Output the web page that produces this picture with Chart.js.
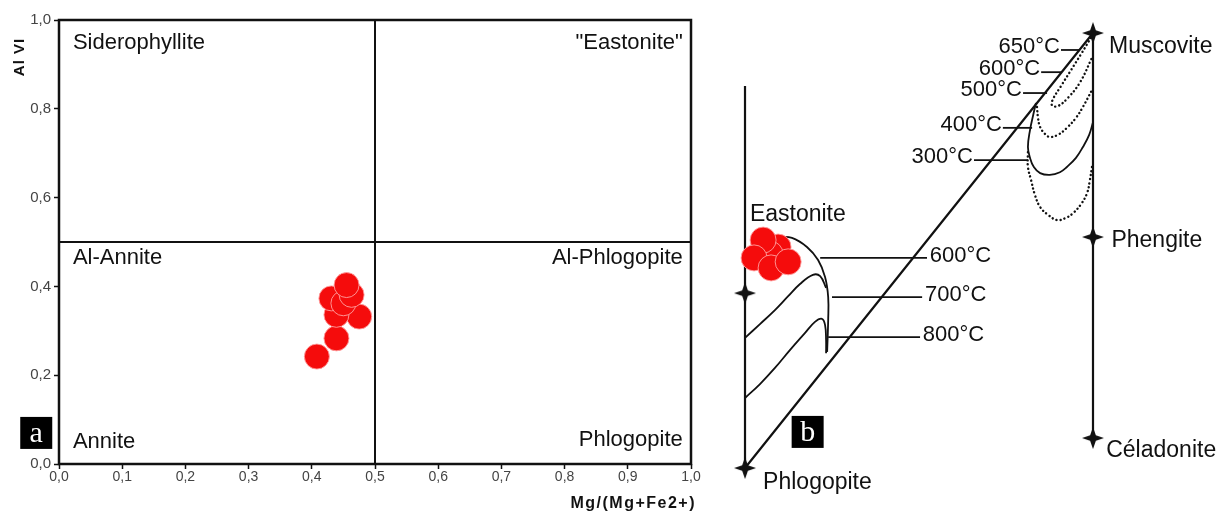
<!DOCTYPE html>
<html>
<head>
<meta charset="utf-8">
<title>Biotite classification</title>
<script src="https://cdn.jsdelivr.net/npm/chart.js@4.4.1/dist/chart.umd.min.js"></script>
<style>
  body { margin: 0; background: #fff; }
  #wrap { position: relative; width: 1222px; height: 513px; overflow: hidden; }
  #chartA { position: absolute; left: 0; top: 0; }
  #chartB { position: absolute; left: 710px; top: 0; }
</style>
</head>
<body>
<div id="wrap">
  <canvas id="chartA" width="710" height="513"></canvas>
  <canvas id="chartB" width="512" height="513"></canvas>
</div>
<script>
// ---- panel a : Al VI vs Mg/(Mg+Fe2+) ----
const mgNumber = [0.408, 0.439, 0.475, 0.439, 0.431, 0.450, 0.463, 0.455];
const alVI     = [0.242, 0.283, 0.332, 0.336, 0.373, 0.362, 0.381, 0.403];
const xTicks = [0, 0.1, 0.2, 0.3, 0.4, 0.5, 0.6, 0.7, 0.8, 0.9, 1.0];
const yTicks = [0, 0.2, 0.4, 0.6, 0.8, 1.0];
const splitValue = 0.5;
const fieldNames = ['Siderophyllite', '"Eastonite"', 'Al-Annite', 'Al-Phlogopite', 'Annite', 'Phlogopite'];

// ---- panel b : schematic (phlogopite = 0, muscovite = 100) ----
const eastoniteAxis = [[0, 87.8], [0, 0]];
const phlMusJoin    = [[0, 0], [100, 100]];
const celadoniteAxis = [[100, 100], [100, 6.9]];
const endMembers = [[0, 0], [0, 40.2], [100, 100], [100, 53.1], [100, 6.9]];
const endMemberNames = ['Phlogopite', 'Eastonite', 'Muscovite', 'Phengite', 'Céladonite'];
const samplesB = [[9.5, 50.8], [7.2, 49.2], [5.2, 52.4], [2.6, 48.3], [7.5, 46.0], [12.4, 47.4]];

const bio600 = [[9.2, 53.1], [13.5, 52.9], [17.8, 50.8], [21.0, 47.8], [23.0, 43.9], [23.9, 39.3], [23.9, 34.0], [23.6, 26.7]];
const bio700 = [[0, 29.9], [4.3, 33.1], [8.6, 36.3], [12.4, 39.5], [15.8, 42.3], [19.5, 44.4], [21.6, 44.1], [23.3, 41.4]];
const bio800 = [[0, 16.1], [4.3, 19.3], [8.6, 23.0], [12.9, 27.1], [17.2, 31.0], [20.1, 33.6], [22.1, 34.3], [23.0, 32.9], [23.3, 29.4], [23.3, 26.4]];

const mus600 = [[99.4, 98.9], [96.6, 95.2], [93.7, 91.5], [90.8, 87.8], [88.5, 84.8], [88.2, 83.4], [89.9, 83.2], [92.8, 85.1], [96.3, 88.7], [99.7, 94.3]];
const mus500 = [[83.9, 83.0], [84.2, 80.5], [84.8, 78.4], [86.2, 76.8], [87.6, 76.1], [89.9, 76.6], [92.5, 78.2], [95.1, 80.5], [97.1, 83.0], [99.7, 86.9]];
const mus400 = [[83.6, 83.9], [82.8, 81.1], [81.9, 77.7], [81.3, 73.8], [81.9, 71.3], [83.0, 69.2], [84.8, 67.8], [87.6, 67.4], [90.5, 68.0], [92.5, 69.2], [95.1, 71.3], [97.1, 73.8], [98.9, 76.6], [100, 79.5]];
const mus300 = [[81.3, 72.6], [81.3, 69.2], [82.2, 66.2], [83.3, 62.8], [84.8, 60.0], [87.1, 58.2], [89.7, 57.0], [92.2, 57.5], [94.3, 58.6], [96.6, 60.7], [98.3, 63.2], [99.1, 66.2], [99.7, 69.2]];

const musTemps = ['650°C', '600°C', '500°C', '400°C', '300°C'];
const musLeaders = [[90.8, 96.0, 96.1], [85.1, 91.1, 91.0], [79.9, 86.8, 86.2], [74.1, 82.5, 78.2], [65.8, 81.3, 70.8]];
const bioTemps = ['600°C', '700°C', '800°C'];
const bioLeaders = [[21.6, 52.3, 48.3], [25.0, 50.9, 39.3], [23.9, 50.3, 30.1]];

const pts = arr => arr.map(p => ({ x: p[0], y: p[1] }));
const fmt = v => v.toFixed(1).replace('.', ',');
const INK = '#111';
const RED = 'rgb(245,12,12)';

function starImage(size) {
    const c = document.createElement('canvas');
    c.width = c.height = size;
    const g = c.getContext('2d');
    const m = size / 2, w = size * 0.13;
    g.fillStyle = INK;
    g.beginPath();
    g.moveTo(m, 0); g.lineTo(m + w, m - w); g.lineTo(size, m); g.lineTo(m + w, m + w);
    g.lineTo(m, size); g.lineTo(m - w, m + w); g.lineTo(0, m); g.lineTo(m - w, m - w);
    g.closePath();
    g.fill();
    return c;
}

// text drawn at data positions, plus the little black letter boxes
const textPlugin = {
    id: 'texts',
    afterDatasetsDraw(chart, args, opts) {
        const ctx = chart.ctx, sx = chart.scales.x, sy = chart.scales.y;
        ctx.save();
        (opts.items || []).forEach(it => {
            const px = sx.getPixelForValue(it.x), py = sy.getPixelForValue(it.y);
            if (it.box) {
                ctx.fillStyle = '#000';
                ctx.fillRect(px - 16, py - 16, 32, 32);
                ctx.fillStyle = '#fff';
                ctx.font = '30px "Liberation Serif", serif';
                ctx.textAlign = 'center';
                ctx.textBaseline = 'middle';
                ctx.fillText(it.box, px, py + 1);
                return;
            }
            ctx.fillStyle = INK;
            ctx.font = (it.size || opts.size) + 'px "Liberation Sans", Arial, sans-serif';
            ctx.textAlign = it.align || 'left';
            ctx.textBaseline = 'middle';
            ctx.fillText(it.text, px, py);
        });
        ctx.restore();
    }
};

// frame + axis titles of panel a
const framePlugin = {
    id: 'frame',
    afterDatasetsDraw(chart) {
        const ctx = chart.ctx, a = chart.chartArea;
        ctx.save();
        ctx.strokeStyle = INK;
        ctx.lineWidth = 2.5;
        ctx.strokeRect(a.left, a.top, a.right - a.left, a.bottom - a.top);
        ctx.fillStyle = INK;
        ctx.font = 'bold 16px "Liberation Sans", Arial, sans-serif';
        ctx.letterSpacing = '1.5px';
        ctx.textAlign = 'right';
        ctx.textBaseline = 'middle';
        ctx.fillText('Mg/(Mg+Fe2+)', a.right + 5, a.bottom + 40);
        ctx.font = 'bold 15px "Liberation Sans", Arial, sans-serif';
        ctx.letterSpacing = '1px';
        ctx.translate(20, a.top + 37);
        ctx.rotate(-Math.PI / 2);
        ctx.textAlign = 'center';
        ctx.fillText('Al VI', 0, 0);
        ctx.restore();
    }
};

const lineSet = (data, width, dash) => ({
    data: pts(data), showLine: true, borderColor: INK, borderWidth: width,
    borderDash: dash || [], borderCapStyle: dash ? 'round' : 'butt',
    pointRadius: 0, tension: 0.4, fill: false, clip: false
});

new Chart(document.getElementById('chartA'), {
    type: 'scatter',
    data: {
        datasets: [
            {
                data: mgNumber.map((v, i) => ({ x: v, y: alVI[i] })),
                backgroundColor: RED, borderColor: 'rgba(255,160,160,0.9)', borderWidth: 1,
                pointRadius: 12.5, pointHoverRadius: 12.5, clip: false
            },
            lineSet([[splitValue, 0], [splitValue, 1]], 2),
            lineSet([[0, splitValue], [1, splitValue]], 2)
        ]
    },
    options: {
        responsive: false,
        animation: false,
        events: [],
        layout: { autoPadding: false, padding: { top: 20, right: 19, left: 0, bottom: 0 } },
        plugins: {
            legend: { display: false },
            tooltip: { enabled: false },
            texts: {
                size: 22,
                items: [
                    { text: fieldNames[0], x: 0.022, y: 0.948 },
                    { text: fieldNames[1], x: 0.987, y: 0.948, align: 'right' },
                    { text: fieldNames[2], x: 0.022, y: 0.464 },
                    { text: fieldNames[3], x: 0.987, y: 0.464, align: 'right' },
                    { text: fieldNames[4], x: 0.022, y: 0.050 },
                    { text: fieldNames[5], x: 0.987, y: 0.054, align: 'right' },
                    { box: 'a', x: -0.036, y: 0.070 }
                ]
            }
        },
        scales: {
            x: {
                type: 'linear', min: 0, max: 1,
                afterBuildTicks: s => { s.ticks = xTicks.map(v => ({ value: v })); },
                afterFit: s => { s.height = 49; },
                ticks: { callback: fmt, color: '#444', padding: 0, maxRotation: 0, font: { family: '"Liberation Sans", Arial', size: 14 } },
                grid: { drawOnChartArea: false, tickLength: 5, tickColor: INK, tickWidth: 1.5 },
                border: { display: false }
            },
            y: {
                type: 'linear', min: 0, max: 1,
                afterBuildTicks: s => { s.ticks = yTicks.map(v => ({ value: v })); },
                afterFit: s => { s.width = 59; },
                ticks: { callback: fmt, color: '#444', padding: 3, font: { family: '"Liberation Sans", Arial', size: 15 } },
                grid: { drawOnChartArea: false, tickLength: 5, tickColor: INK, tickWidth: 1.5 },
                border: { display: false }
            }
        }
    },
    plugins: [framePlugin, textPlugin]
});

const dotted = [0.1, 4];
const bItems = [
    { text: endMemberNames[0], x: 5.2, y: -3.4 },
    { text: endMemberNames[1], x: 1.4, y: 58.2 },
    { text: endMemberNames[2], x: 104.6, y: 96.8 },
    { text: endMemberNames[3], x: 105.3, y: 52.2 },
    { text: endMemberNames[4], x: 103.8, y: 4.1 },
    { box: 'b', x: 18.0, y: 8.3 }
];
musTemps.forEach((t, i) => bItems.push({ text: t, size: 22, x: musLeaders[i][0] - 0.3, y: musLeaders[i][2] + 0.7, align: 'right' }));
bioTemps.forEach((t, i) => bItems.push({ text: t, size: 22, x: bioLeaders[i][1] + 0.8, y: bioLeaders[i][2] + 0.5 }));

const bSets = [
    {
        data: pts(samplesB), backgroundColor: RED, borderColor: 'rgba(255,160,160,0.9)', borderWidth: 1,
        pointRadius: 13, pointHoverRadius: 13, clip: false
    },
    { data: pts(endMembers), pointStyle: starImage(22), pointRadius: 11, clip: false },
    lineSet(eastoniteAxis, 2.2),
    lineSet(phlMusJoin, 2.2),
    lineSet(celadoniteAxis, 2.2),
    lineSet(bio600, 1.8),
    lineSet(bio700, 1.8),
    lineSet(bio800, 1.8),
    lineSet(mus600, 2.4, dotted),
    lineSet(mus500, 2.4, dotted),
    lineSet(mus400, 1.8),
    lineSet(mus300, 2.4, dotted)
];
musLeaders.forEach(l => bSets.push(lineSet([[l[0], l[2]], [l[1], l[2]]], 1.8)));
bioLeaders.forEach(l => bSets.push(lineSet([[l[0], l[2]], [l[1], l[2]]], 1.8)));

new Chart(document.getElementById('chartB'), {
    type: 'scatter',
    data: { datasets: bSets },
    options: {
        responsive: false,
        animation: false,
        events: [],
        layout: { autoPadding: false, padding: 0 },
        plugins: {
            legend: { display: false },
            tooltip: { enabled: false },
            texts: { size: 23, items: bItems }
        },
        scales: {
            x: { type: 'linear', display: false, min: -10.06, max: 137.07 },
            y: { type: 'linear', display: false, min: -10.34, max: 107.59 }
        }
    },
    plugins: [textPlugin]
});
</script>
</body>
</html>
